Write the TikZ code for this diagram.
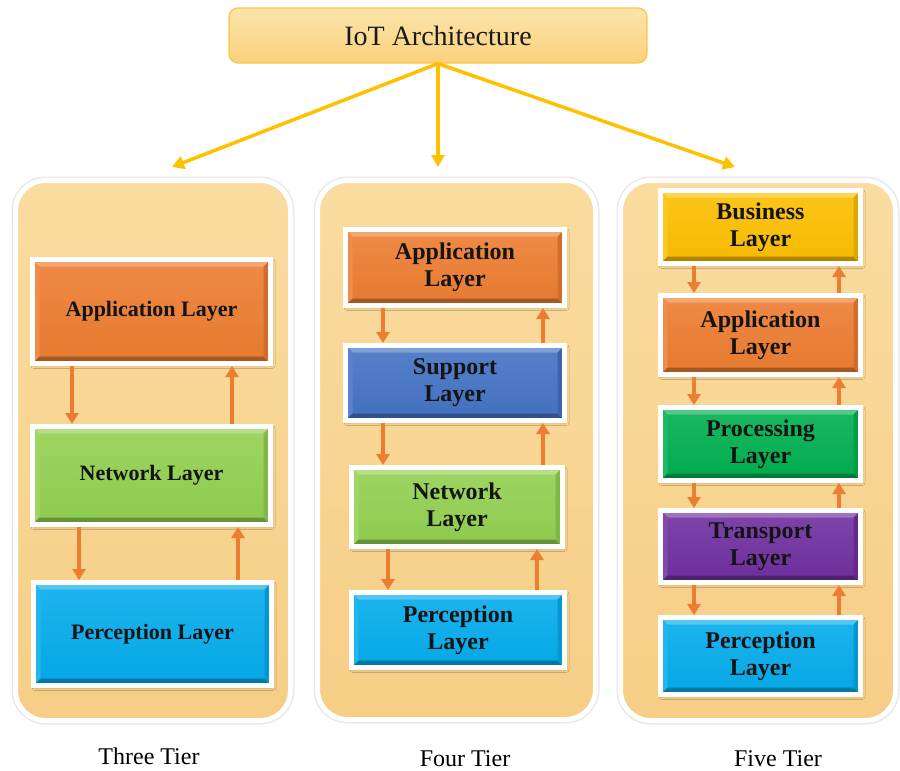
\documentclass[tikz,border=0pt]{standalone}
\usepackage{fontspec}
\setmainfont{Liberation Serif}
\usetikzlibrary{arrows.meta, shadows.blur}

\definecolor{appc}{HTML}{ED7D31}
\definecolor{netc}{HTML}{92D050}
\definecolor{perc}{HTML}{04ACEC}
\definecolor{supc}{HTML}{4472C4}
\definecolor{busc}{HTML}{FCBF00}
\definecolor{proc}{HTML}{00B050}
\definecolor{trac}{HTML}{7030A0}
\definecolor{flowc}{HTML}{ED7D31}
\definecolor{rootc}{HTML}{FFC000}
\definecolor{paneltop}{HTML}{FADCA0}
\definecolor{panelbot}{HTML}{F6CE86}
\definecolor{boxtop}{HTML}{FDE4AB}
\definecolor{boxbot}{HTML}{F9D17C}
\definecolor{boxline}{HTML}{F8C64A}

% raised (bevelled) faces inside a layer box
\newcommand\bevelfaces[1]{%
  \fill[#1!68!white]
    (path picture bounding box.north west) -- (path picture bounding box.north east)
    -- ([xshift=-7pt,yshift=-7pt]path picture bounding box.north east)
    -- ([xshift=7pt,yshift=-7pt]path picture bounding box.north west) -- cycle;
  \fill[#1!88!white]
    (path picture bounding box.north west) -- ([xshift=7pt,yshift=-7pt]path picture bounding box.north west)
    -- ([xshift=7pt,yshift=7pt]path picture bounding box.south west)
    -- (path picture bounding box.south west) -- cycle;
  \fill[#1!70!black]
    (path picture bounding box.south west) -- (path picture bounding box.south east)
    -- ([xshift=-7pt,yshift=7pt]path picture bounding box.south east)
    -- ([xshift=7pt,yshift=7pt]path picture bounding box.south west) -- cycle;
  \fill[#1!88!black]
    (path picture bounding box.north east) -- ([xshift=-7pt,yshift=-7pt]path picture bounding box.north east)
    -- ([xshift=-7pt,yshift=7pt]path picture bounding box.south east)
    -- (path picture bounding box.south east) -- cycle;
}

\begin{document}
\begin{tikzpicture}[x=1pt, y=-1pt,
  panel/.style={rectangle, rounded corners=30pt, draw=white, line width=5pt,
    top color=paneltop, bottom color=panelbot,
    preaction={draw=black!9, line width=8pt}},
  layer/.style={rectangle, draw=white, line width=5pt, inner sep=0pt,
    top color=#1!90!white, bottom color=#1!97!black,
    path picture={\bevelfaces{#1}},
    blur shadow={shadow xshift=1.5pt, shadow yshift=-2pt, shadow blur radius=3pt, shadow opacity=22},
    align=center, text=black!92, font=\bfseries\fontsize{24}{27}\selectfont},
  wide/.style={font=\bfseries\fontsize{22}{26}\selectfont},
  rootbox/.style={rectangle, rounded corners=9pt, draw=boxline, line width=1.2pt,
    top color=boxtop, bottom color=boxbot, inner sep=0pt,
    font=\fontsize{28}{32}\selectfont, text=black!90},
  rootarrow/.style={draw=rootc, line width=3.5pt, -{Triangle[length=12pt,width=13pt]}},
  flow/.style={draw=flowc, line width=3.5pt, -{Triangle[length=11pt,width=13pt]}},
  tier/.style={font=\fontsize{24}{28}\selectfont, text=black}
]
\useasboundingbox (0,0) rectangle (900,771);

% title box and its three branches
\node[rootbox, minimum width=418pt, minimum height=55pt] (iot) at (438,35.5) {IoT Architecture};
\coordinate (b1) at (172,167);
\coordinate (b2) at (438,167);
\coordinate (b3) at (735,167);
\draw[rootarrow] (iot.south) -- (b1);
\draw[rootarrow] (iot.south) -- (b2);
\draw[rootarrow] (iot.south) -- (b3);

% the three tier panels
\node[panel, minimum width=275pt, minimum height=540pt] (p1) at (153,450.5) {};
\node[panel, minimum width=278pt, minimum height=539pt] (p2) at (456.5,450) {};
\node[panel, minimum width=275pt, minimum height=540pt] (p3) at (758,450.5) {};

% three tier
\node[layer=appc, wide, minimum width=238pt, minimum height=104pt] (t3app) at (151.5,311.5) {Application Layer};
\node[layer=netc, wide, minimum width=238pt, minimum height=98pt] (t3net) at (151.5,475.5) {Network Layer};
\node[layer=perc, wide, minimum width=238pt, minimum height=103pt] (t3per) at (152.5,634) {Perception Layer};

% four tier
\node[layer=appc, minimum width=219pt, minimum height=76pt] (f4app) at (455,267.5) {Application\\Layer};
\node[layer=supc, minimum width=219pt, minimum height=75pt] (f4sup) at (455,383) {Support\\Layer};
\node[layer=netc, minimum width=211pt, minimum height=79pt] (f4net) at (457,507) {Network\\Layer};
\node[layer=perc, minimum width=213pt, minimum height=75pt] (f4per) at (458,630) {Perception\\Layer};

% five tier
\node[layer=busc, minimum width=200pt, minimum height=73pt] (v5bus) at (760.5,227) {Business\\Layer};
\node[layer=appc, minimum width=200pt, minimum height=79pt] (v5app) at (760.5,335) {Application\\Layer};
\node[layer=proc, minimum width=200pt, minimum height=73pt] (v5pro) at (760.5,444) {Processing\\Layer};
\node[layer=trac, minimum width=200pt, minimum height=72pt] (v5tra) at (760.5,546.5) {Transport\\Layer};
\node[layer=perc, minimum width=200pt, minimum height=77pt] (v5per) at (760.5,656) {Perception\\Layer};

% flows between layers: down on the left, up on the right
\draw[flow] (t3app.south -| 72,0) -- (t3net.north -| 72,0);
\draw[flow] (t3net.north -| 232,0) -- (t3app.south -| 232,0);
\draw[flow] (t3net.south -| 79,0) -- (t3per.north -| 79,0);
\draw[flow] (t3per.north -| 238,0) -- (t3net.south -| 238,0);

\draw[flow] (f4app.south -| 383,0) -- (f4sup.north -| 383,0);
\draw[flow] (f4sup.north -| 543,0) -- (f4app.south -| 543,0);
\draw[flow] (f4sup.south -| 383,0) -- (f4net.north -| 383,0);
\draw[flow] (f4net.north -| 543,0) -- (f4sup.south -| 543,0);
\draw[flow] (f4net.south -| 388,0) -- (f4per.north -| 388,0);
\draw[flow] (f4per.north -| 537,0) -- (f4net.south -| 537,0);

\draw[flow] (v5bus.south -| 694,0) -- (v5app.north -| 694,0);
\draw[flow] (v5app.north -| 839,0) -- (v5bus.south -| 839,0);
\draw[flow] (v5app.south -| 694,0) -- (v5pro.north -| 694,0);
\draw[flow] (v5pro.north -| 839,0) -- (v5app.south -| 839,0);
\draw[flow] (v5pro.south -| 694,0) -- (v5tra.north -| 694,0);
\draw[flow] (v5tra.north -| 839,0) -- (v5pro.south -| 839,0);
\draw[flow] (v5tra.south -| 694,0) -- (v5per.north -| 694,0);
\draw[flow] (v5per.north -| 839,0) -- (v5tra.south -| 839,0);

% tier captions
\node[tier] (c1) at (149,756) {Three Tier};
\node[tier] (c2) at (465,759) {Four Tier};
\node[tier] (c3) at (778,759) {Five Tier};
\end{tikzpicture}
\end{document}
